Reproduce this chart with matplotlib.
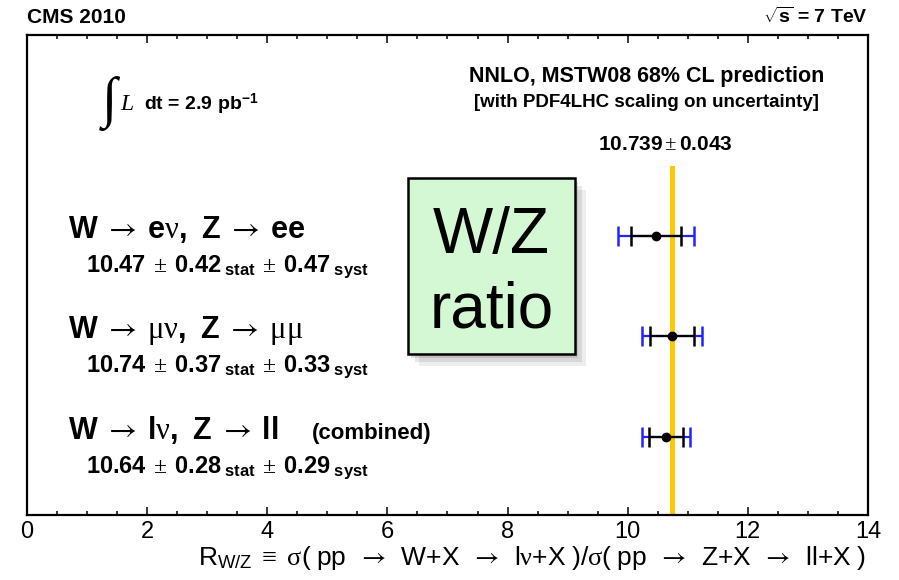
import numpy as np
import matplotlib
matplotlib.use("Agg")
import matplotlib.pyplot as plt
from matplotlib.patches import Rectangle
from matplotlib.ticker import MultipleLocator

plt.rcParams["font.family"] = ["Liberation Sans", "DejaVu Sans"]
plt.rcParams["mathtext.fontset"] = "custom"
plt.rcParams["mathtext.rm"] = "Liberation Serif"
plt.rcParams["mathtext.it"] = "Liberation Serif:italic"
plt.rcParams["mathtext.bf"] = "Liberation Sans:bold"
plt.rcParams["mathtext.sf"] = "Liberation Sans"
plt.rcParams["mathtext.cal"] = "STIXGeneral"   # used only for the arrows

AR = r"\mathcal{\rightarrow}"

# measured W/Z ratios (CMS 2010)
ratio = [10.47, 10.74, 10.64]
stat = [0.42, 0.37, 0.28]
syst = [0.47, 0.33, 0.29]
row_y = [2.79, 1.79, 0.78]
labels = [
    r"$\mathbf{W}\ " + AR + r"\;\mathbf{e}\mathrm{\nu}\mathbf{,}\ \ \mathbf{Z}\ " + AR + r"\;\mathbf{ee}$",
    r"$\mathbf{W}\ " + AR + r"\;\mathrm{\mu\nu}\mathbf{,}\ \ \mathbf{Z}\ " + AR + r"\;\mathrm{\mu\mu}$",
    r"$\mathbf{W}\ " + AR + r"\;\mathbf{l}\mathrm{\nu}\mathbf{,}\ \ \mathbf{Z}\ " + AR + r"\;\mathbf{ll}$",
]

# theory prediction
theory = 10.739
theory_err = 0.043

total = np.sqrt(np.array(stat) ** 2 + np.array(syst) ** 2)

fig = plt.figure(figsize=(8.99, 5.8), dpi=100)
ax = fig.add_axes([27 / 899, 65 / 580, 841 / 899, 480 / 580])
ax.set_xlim(0, 14)
ax.set_ylim(0, 4.8)

# yellow theory band
ax.fill_betweenx([0, 3.49], theory - theory_err, theory + theory_err,
                 color="#FFC800", lw=0, zorder=1)
ax.text(10.62, 3.65, r"$\mathbf{%.3f}\pm\mathbf{%.3f}$" % (theory, theory_err),
        ha="center", va="baseline", fontsize=15)

# total (blue) and stat (black) error bars
ax.errorbar(ratio, row_y, xerr=total, fmt="none", ecolor="#2222ff",
            elinewidth=1.6, capsize=7, capthick=1.8, zorder=3)
ax.errorbar(ratio, row_y, xerr=stat, fmt="o", color="black", ms=6,
            elinewidth=1.6, capsize=7, capthick=1.8, zorder=4)

# channel labels
for lab, r, s, sy, y in zip(labels, ratio, stat, syst, row_y):
    ax.text(0.68, y - 0.02, lab, fontsize=22, va="baseline")
    ax.text(0.98, y - 0.36,
            r"$\mathbf{%.2f}\;\pm\;\mathbf{%.2f}_{\ \mathbf{stat}}\;\pm\;\mathbf{%.2f}_{\ \mathbf{syst}}$" % (r, s, sy),
            fontsize=17, va="baseline")
ax.text(4.75, row_y[2] - 0.02, "(combined)", fontsize=16, fontweight="bold", va="baseline")

# luminosity
ax.text(1.2, 3.99, r"$\int$", fontsize=40, va="baseline")
ax.text(1.56, 4.05, "L", fontsize=17, family="Liberation Serif", style="italic", va="baseline")
ax.text(1.95, 4.05, r"dt = 2.9 pb$^{\mathbf{-1}}$", fontsize=14, fontweight="bold", va="baseline")

# prediction header
ax.text(10.32, 4.33, "NNLO, MSTW08 68% CL prediction", fontsize=15.5,
        fontweight="bold", ha="center", va="baseline")
ax.text(10.32, 4.08, "[with PDF4LHC scaling on uncertainty]", fontsize=13.5,
        fontweight="bold", ha="center", va="baseline")

# green "W/Z ratio" box with a soft shadow
bx0, by0, bw, bh = 6.34, 1.61, 2.78, 1.76
for k, a in enumerate([0.07, 0.09, 0.11]):
    off = 0.03 * (3 - k)
    ax.add_patch(Rectangle((bx0 + off * 2, by0 - off * 1.3), bw, bh,
                           facecolor="black", alpha=a, lw=0, zorder=5))
ax.add_patch(Rectangle((bx0, by0), bw, bh, facecolor="#D4F7D4",
                       edgecolor="black", lw=1.8, zorder=6))
ax.text(bx0 + bw / 2, 2.62, "W/Z", fontsize=46, ha="center", va="baseline", zorder=7)
ax.text(bx0 + bw / 2, 1.87, "ratio", fontsize=46, ha="center", va="baseline", zorder=7)

# axes styling
ax.xaxis.set_major_locator(MultipleLocator(2))
ax.xaxis.set_minor_locator(MultipleLocator(0.5))
ax.tick_params(axis="x", which="both", direction="in", top=True, width=1.1)
ax.tick_params(axis="x", which="major", length=6, labelsize=17, pad=4)
ax.tick_params(axis="x", which="minor", length=3)
ax.set_yticks([])
for sp in ax.spines.values():
    sp.set_linewidth(1.6)

SP = r"\ \;"
xlab = (r"$\mathsf{R}_{\mathsf{W/Z}}\ \equiv\ \mathrm{\sigma}\mathsf{(\ pp}" + SP + AR + SP + r"\mathsf{W{+}X}" + SP + AR
        + SP + r"\mathsf{l}\mathrm{\nu}\mathsf{{+}X\ )/}\mathrm{\sigma}\mathsf{(\ pp}" + SP + AR + SP + r"\mathsf{Z{+}X}"
        + SP + AR + SP + r"\mathsf{ll{+}X\ )}$")
fig.text(866 / 899, 15 / 580, xlab, fontsize=19, ha="right", va="baseline")
fig.text(27 / 899, 557 / 580, "CMS 2010", fontsize=15, fontweight="bold", va="baseline")
fig.text(868 / 899, 557 / 580, r"$\sqrt{\mathbf{s}}$ = 7 TeV", fontsize=14,
         fontweight="bold", ha="right", va="baseline")

fig.savefig("out.png", dpi=100)
